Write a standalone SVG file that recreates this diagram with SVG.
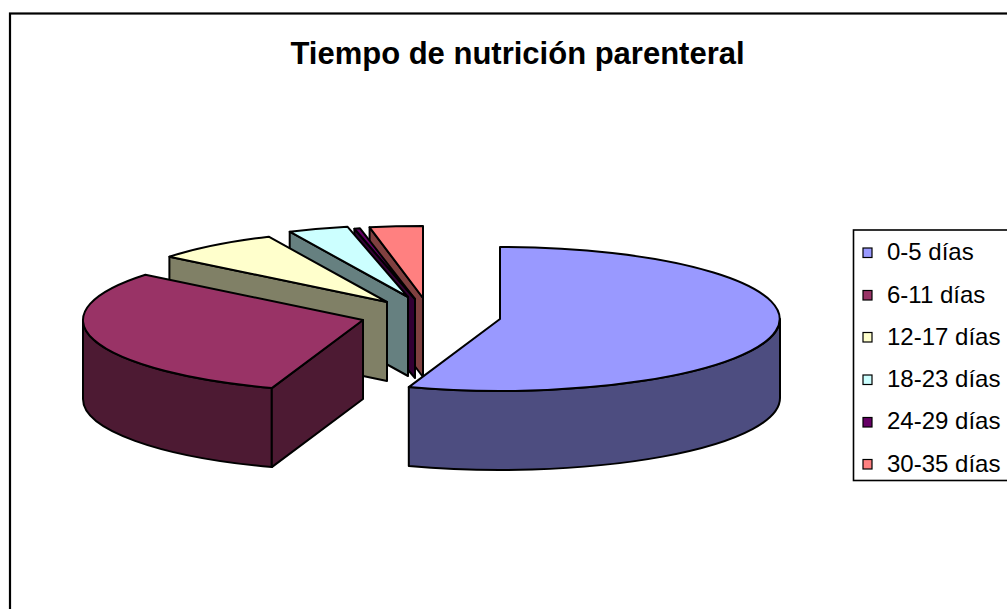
<svg xmlns="http://www.w3.org/2000/svg" width="1007" height="609" viewBox="0 0 1007 609">
<style>
.s{stroke:#000;stroke-width:2;stroke-linejoin:round}
.t{font-family:"Liberation Sans",Arial,sans-serif;fill:#000}
.lg{font-size:24px}
.sw{stroke:#000;stroke-width:1.2}
</style>
<rect x="0" y="0" width="1007" height="609" fill="#fff"/>
<rect id="frame" x="10" y="13.5" width="1010" height="700" fill="#fff" stroke="#000" stroke-width="2.2"/>
<text id="title" class="t" x="517.5" y="64" font-size="31" font-weight="bold" text-anchor="middle">Tiempo de nutrición parenteral</text>
<g id="pie">
<g id="slice-30-35">
<path class="s" fill="#804040" d="M423,298 L369.6,227.3 L369.6,306.3 L423,377 Z"/>
<path class="s" fill="#FF8080" d="M423,298 L369.6,227.3 A280,72 0 0,1 423,226 Z"/>
</g>
<g id="slice-24-29">
<path class="s" fill="#330033" d="M415,299 L354.4,228.7 L354.4,307.7 L415,378 Z"/>
<path class="s" fill="#660066" d="M415,299 L354.4,228.7 A280,72 0 0,1 360,228.3 Z"/>
</g>
<g id="slice-18-23">
<path class="s" fill="#668080" d="M408,297 L289.7,231.7 L289.7,310.7 L408,376 Z"/>
<path class="s" fill="#CCFFFF" d="M408,297 L289.7,231.7 A280,72 0 0,1 347.4,226.7 Z"/>
</g>
<g id="slice-12-17">
<path class="s" fill="#808066" d="M387,302 L169.4,256.7 L169.4,335.7 L387,381 Z"/>
<path class="s" fill="#FFFFCC" d="M387,302 L169.4,256.7 A280,72 0 0,1 268.7,236.7 Z"/>
</g>
<g id="slice-6-11">
<path class="s" fill="#4D1A33" d="M271.8,388.1 A280,72 0 0,1 83,320 L83,399 A280,72 0 0,0 271.8,467.1 Z"/>
<path class="s" fill="#4D1A33" d="M363,320 L271.8,388.1 L271.8,467.1 L363,399 Z"/>
<path class="s" fill="#993366" d="M363,320 L271.8,388.1 A280,72 0 0,1 145.4,274.7 Z"/>
</g>
<g id="slice-0-5">
<path class="s" fill="#4D4D80" d="M780,319 A280,72 0 0,1 408.8,387.1 L408.8,466.1 A280,72 0 0,0 780,398 Z"/>
<path class="s" fill="#9999FF" d="M500,319 L500,247 A280,72 0 1,1 408.8,387.1 Z"/>
</g>
</g>
<g id="legend">
<rect x="853.5" y="230" width="200" height="250.5" fill="#fff" stroke="#000" stroke-width="1.6"/>
<g id="leg-0-5"><rect class="sw" x="863" y="248" width="9" height="9.5" fill="#9999FF"/><text class="t lg" x="887" y="260">0-5 días</text></g>
<g id="leg-6-11"><rect class="sw" x="863" y="290.5" width="9" height="9.5" fill="#993366"/><text class="t lg" x="887" y="302.5">6-11 días</text></g>
<g id="leg-12-17"><rect class="sw" x="863" y="332.5" width="9" height="9.5" fill="#FFFFCC"/><text class="t lg" x="887" y="344.7">12-17 días</text></g>
<g id="leg-18-23"><rect class="sw" x="863" y="375" width="9" height="9.5" fill="#CCFFFF"/><text class="t lg" x="887" y="387">18-23 días</text></g>
<g id="leg-24-29"><rect class="sw" x="863" y="417.5" width="9" height="9.5" fill="#660066"/><text class="t lg" x="887" y="429.3">24-29 días</text></g>
<g id="leg-30-35"><rect class="sw" x="863" y="459.5" width="9" height="9.5" fill="#FF8080"/><text class="t lg" x="887" y="471.6">30-35 días</text></g>
</g>
<g id="connectors"/>
</svg>
